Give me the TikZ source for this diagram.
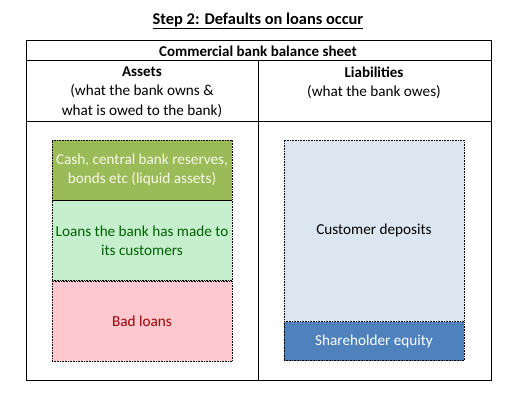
\documentclass[tikz,border=0pt]{standalone}
\usepackage{fontspec}
\setmainfont{Carlito}
\usepackage{xcolor}
\usepackage{tikz}
\usetikzlibrary{positioning}
\definecolor{cashgreen}{RGB}{155, 187, 89}
\definecolor{cashtext}{RGB}{248, 248, 230}
\definecolor{loangreen}{RGB}{198, 239, 206}
\definecolor{loantext}{RGB}{0, 97, 0}
\definecolor{badred}{RGB}{255, 199, 206}
\definecolor{badtext}{RGB}{156, 0, 6}
\definecolor{depblue}{RGB}{220, 230, 241}
\definecolor{eqblue}{RGB}{79, 129, 189}
\tikzstyle{sheetbox} = [rectangle, minimum width=180pt, align=center, inner sep=0pt, draw=black, densely dotted, line width=0.6pt]
\tikzstyle{heading} = [align=center, inner sep=0pt]
\tikzstyle{gridline} = [line width=0.9pt, black]

\begin{document}
\begin{tikzpicture}[x=1pt, y=-1pt, font=\fontsize{15.2}{19.5}\selectfont]
    \useasboundingbox (0,0) rectangle (517,401);
    % table frame
    \draw [gridline] (26,40) rectangle (491,380);
    \draw [gridline] (26,60) -- (491,60);
    \draw [gridline] (26,121) -- (491,121);
    \draw [gridline] (258,60) -- (258,380);
    % headings
    \node (title) [heading, font=\fontsize{16.4}{19}\selectfont\bfseries] at (258,21) {\underline{Step 2: Defaults on loans occur}};
    \node (sheet) [heading, font=\fontsize{15}{19}\selectfont\bfseries] at (258,51) {Commercial bank balance sheet};
    \node (assets) [heading, font=\fontsize{15}{19}\selectfont\bfseries] at (142,72) {Assets};
    \node (assetsub) [heading] at (142,101) {(what the bank owns \&\\what is owed to the bank)};
    \node (liab) [heading, font=\fontsize{15}{19}\selectfont\bfseries] at (374,72) {Liabilities};
    \node (liabsub) [heading] at (374,91.5) {(what the bank owes)};
    % assets side
    \node (cash) [sheetbox, fill=cashgreen, text=cashtext, minimum height=60pt] at (142,170) {Cash, central bank reserves,\\bonds etc (liquid assets)};
    \node (loans) [sheetbox, fill=loangreen, text=loantext, minimum height=80pt, below=0pt of cash] {Loans the bank has made to\\its customers};
    \node (bad) [sheetbox, fill=badred, text=badtext, minimum height=80pt, below=0pt of loans] {Bad loans};
    % liabilities side
    \node (deposits) [sheetbox, fill=depblue, text=black, minimum height=181pt] at (374,230.5) {Customer deposits};
    \node (equity) [sheetbox, fill=eqblue, text=white, minimum height=39pt, below=0pt of deposits] {Shareholder equity};
\end{tikzpicture}
\end{document}
